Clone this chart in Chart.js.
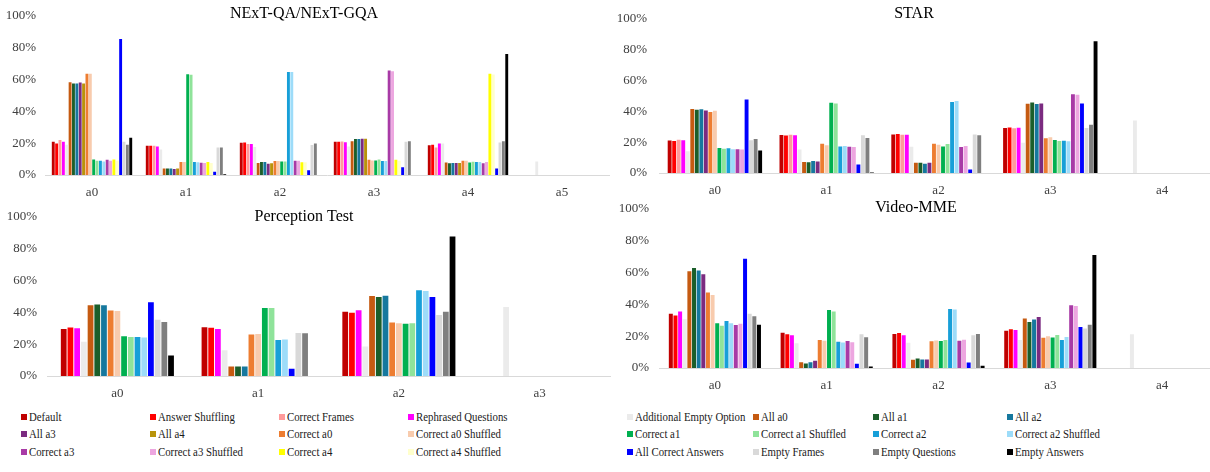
<!DOCTYPE html>
<html>
<head>
<meta charset="utf-8">
<script src="https://cdn.jsdelivr.net/npm/chart.js@4.4.1/dist/chart.umd.min.js"></script>
<style>
  html, body { margin: 0; padding: 0; background: #fff; overflow: hidden; width: 1210px; height: 472px; position: relative; }
  canvas { position: absolute; }
  .lg { position: absolute; white-space: nowrap; font-family: 'Liberation Serif', 'Times New Roman', serif; font-size: 13.5px; color: #1a1a1a; line-height: 15px; }
  .lg i { display: inline-block; width: 6px; height: 6px; margin-right: 2px; vertical-align: 1px; }
  .lg span { display: inline-block; transform: scaleX(0.8); transform-origin: left center; }
</style>
</head>
<body>
<canvas id="cNext" width="610" height="200" style="left:0;top:0"></canvas>
<canvas id="cStar" width="620" height="200" style="left:600px;top:0"></canvas>
<canvas id="cPerc" width="612" height="200" style="left:0;top:200px"></canvas>
<canvas id="cVmme" width="620" height="200" style="left:600px;top:192px"></canvas>
<div id="legend"></div>
<script>
// Series (same order as the legend) and their colours
const seriesNames = [
  'Default', 'Answer Shuffling', 'Correct Frames', 'Rephrased Questions', 'Additional Empty Option', 'All a0', 'All a1', 'All a2',
  'All a3', 'All a4', 'Correct a0', 'Correct a0 Shuffled', 'Correct a1', 'Correct a1 Shuffled', 'Correct a2', 'Correct a2 Shuffled',
  'Correct a3', 'Correct a3 Shuffled', 'Correct a4', 'Correct a4 Shuffled', 'All Correct Answers', 'Empty Frames', 'Empty Questions', 'Empty Answers'
];
const seriesColors = [
  '#C00000', '#FF0000', '#FF9B9B', '#FF00FF', '#EBEBEB', '#C55A11', '#1B5E2A', '#16789E',
  '#7B2B80', '#B8930A', '#ED7D31', '#F8CBAD', '#00B050', '#8FE39A', '#179FD8', '#9DDCF9',
  '#A83AA6', '#EDA6E0', '#FFFF00', '#FFFFCC', '#0000FF', '#D9D9D9', '#7F7F7F', '#000000'
];

// NExT-QA / NExT-GQA: all 24 series, one row of values per answer position
const nextCats = ['a0', 'a1', 'a2', 'a3', 'a4', 'a5'];
const nextSeries = seriesNames.slice();
const nextValues = [
  [20.8, 19.8, 22, 20.8, 19, 58.1, 57.3, 57.3, 58, 57.3, 63.5, 63.5, 9.7, 8.9, 8.9, 8.5, 9.5, 8.9, 9.7, 9, 85.3, 20.8, 19, 23.4],
  [18.3, 18.3, 18.3, 17.9, 16, 4, 4, 4, 3.7, 4, 8.1, 8.1, 63.1, 62.9, 8.1, 8, 7.7, 7.5, 8.1, 7.5, 2, 17.3, 17.3, 0.5],
  [20.2, 20.4, 19.4, 19.4, 17.5, 7.5, 8.1, 8.1, 7, 7.3, 8.7, 8.7, 8.5, 8.5, 64.5, 64.5, 9, 9, 8, 8, 3, 18.8, 19.8, null],
  [20.8, 20.8, 21, 20.5, 17.9, 21.2, 22.6, 22.6, 22.8, 22.8, 9.5, 9.1, 9.1, 9.7, 8.7, 8.7, 65.5, 65.1, 9.5, 9, 4.8, 20.8, 21.2, null],
  [18.7, 19, 17.3, 19.8, 19.8, 7.9, 7.3, 7.5, 7.5, 7.5, 8.9, 8.9, 7.9, 8.3, 8.1, 8.1, 7.3, 8.1, 63.5, 63, 4, 20.4, 21.2, 75.8],
  [null, null, null, null, 8.5, null, null, null, null, null, null, null, null, null, null, null, null, null, null, null, null, null, null, null]
];

// STAR: four answers, so no a4 series
const starCats = ['a0', 'a1', 'a2', 'a3', 'a4'];
const starSeries = seriesNames.filter(n => !['All a4', 'Correct a4', 'Correct a4 Shuffled'].includes(n));
const starValues = [
  [21, 20.7, 21.5, 21.2, 14, 41.5, 41, 41.3, 40.5, 39.5, 40.3, 16.2, 15.7, 16, 15.3, 15.3, 15.2, 47.5, 21.2, 22, 14.5],
  [24.6, 24.2, 24.8, 24.4, 15.2, 7.1, 6.9, 7.8, 7.5, 18.9, 17.9, 45.4, 45, 17.2, 17.5, 17, 16.8, 5.5, 24.5, 22.7, 0.3],
  [25, 25.2, 24.7, 24.8, 17, 6.6, 6.6, 6, 6.6, 18.9, 18.3, 17.2, 18.7, 46, 46.6, 16.9, 17.4, 2.2, 25, 24.4, null],
  [29.1, 29.5, 28.9, 29.3, 19.5, 44.8, 45.6, 44.6, 45, 22.5, 23.1, 21.3, 20.7, 20.9, 20.5, 51, 50.6, 45, 29.1, 31.3, 85.3],
  [null, null, null, null, 33.9, null, null, null, null, null, null, null, null, null, null, null, null, null, null, null, null]
];

// Perception Test: three answers, no Correct Frames
const percCats = ['a0', 'a1', 'a2', 'a3'];
const percSeries = seriesNames.filter(n => !['Correct Frames', 'All a3', 'All a4', 'Correct a3', 'Correct a3 Shuffled', 'Correct a4', 'Correct a4 Shuffled'].includes(n));
const percValues = [
  [29.4, 30.4, 30, 21.5, 44.3, 44.9, 44.3, 41, 40.8, 25, 24.4, 24.4, 24.2, 46.3, 35.2, 33.8, 12.9],
  [30.6, 30.2, 29.4, 16.1, 6, 6, 6, 26, 26.4, 42.7, 42.7, 22.6, 22.9, 4.5, 27, 26.8, null],
  [40.3, 39.7, 41.3, 18.5, 50.1, 49.5, 50.3, 33.6, 33, 32.8, 33, 53.7, 53.3, 49.5, 38.2, 40.3, 87.5],
  [null, null, null, 43.3, null, null, null, null, null, null, null, null, null, null, null, null, null]
];

// Video-MME: four answers, no Correct Frames
const vmmeCats = ['a0', 'a1', 'a2', 'a3', 'a4'];
const vmmeSeries = seriesNames.filter(n => !['Correct Frames', 'All a4', 'Correct a4', 'Correct a4 Shuffled'].includes(n));
const vmmeValues = [
  [34, 32.9, 35.4, 30.5, 60.7, 62.7, 61.1, 58.7, 47.4, 45.8, 28, 26.5, 29.5, 28.1, 26.9, 27.7, 68.5, 34, 32.5, 27.1],
  [22.1, 21.1, 20.5, 15.5, 3.6, 2.8, 3.6, 4.5, 17.5, 17.1, 36.4, 35.4, 16.5, 16, 16.9, 16.1, 2.6, 21.1, 19.3, 1],
  [21.3, 21.9, 20.5, 15.9, 5.1, 6, 5.4, 5.4, 16.7, 17.3, 16.9, 17.5, 37, 36.6, 17.1, 17.7, 3.4, 20.5, 21.3, 1.4],
  [23.3, 24.3, 23.9, 17.5, 31, 28.9, 30.4, 31.9, 18.9, 19.9, 19.1, 20.7, 17.5, 19.5, 39.4, 38.8, 25.7, 24.7, 27.1, 70.9],
  [null, null, null, 21.1, null, null, null, null, null, null, null, null, null, null, null, null, null, null, null, null]
];

const yTicks = [0, 20, 40, 60, 80, 100];
const FONT = "'Liberation Serif', 'Times New Roman', serif";

// Title drawn inside the plot, like the original
const panelTitle = {
  id: 'panelTitle',
  afterDraw(chart, args, o) {
    const ctx = chart.ctx;
    ctx.save();
    ctx.font = '16px ' + FONT;
    ctx.fillStyle = '#000';
    ctx.textAlign = 'center';
    ctx.textBaseline = 'middle';
    ctx.fillText(o.text, o.x, o.y);
    ctx.restore();
  }
};

function makeChart(id, cats, names, rows, o) {
  const datasets = names.map((name, s) => ({
    label: name,
    data: rows.map(r => r[s]),
    backgroundColor: seriesColors[seriesNames.indexOf(name)],
    borderWidth: 0,
    categoryPercentage: o.cat,
    barPercentage: 0.86
  }));
  return new Chart(document.getElementById(id), {
    type: 'bar',
    data: { labels: cats, datasets },
    plugins: [panelTitle],
    options: {
      responsive: false,
      animation: false,
      layout: { padding: { top: o.top, right: o.right, left: 0, bottom: 0 } },
      plugins: {
        legend: { display: false },
        tooltip: { enabled: false },
        panelTitle: { text: o.title, x: o.tx, y: o.ty }
      },
      scales: {
        x: {
          grid: { display: false, drawTicks: false },
          border: { color: '#D9D9D9', width: 1 },
          ticks: { padding: 10, color: '#404040', font: { family: FONT, size: 13 } },
          afterFit: s => { s.height = o.xh; }
        },
        y: {
          min: 0, max: 100,
          grid: { display: false, drawTicks: false },
          border: { display: false },
          afterBuildTicks: s => { s.ticks = yTicks.map(v => ({ value: v })); },
          ticks: { padding: o.yp, color: '#404040', font: { family: FONT, size: 13, lineHeight: 1 }, callback: v => v + '%' },
          afterFit: s => { s.width = o.yw; }
        }
      }
    }
  });
}

makeChart('cNext', nextCats, nextSeries, nextValues, { title: 'NExT-QA/NExT-GQA', tx: 304, ty: 14, top: 7, right: 1, xh: 25, yw: 45, yp: 9, cat: 0.86 });
makeChart('cStar', starCats, starSeries, starValues, { title: 'STAR', tx: 314, ty: 14, top: 7, right: 2, xh: 27, yw: 59, yp: 12, cat: 0.85 });
makeChart('cPerc', percCats, percSeries, percValues, { title: 'Perception Test', tx: 304, ty: 17, top: 10, right: 2, xh: 24, yw: 47, yp: 10, cat: 0.81 });
makeChart('cVmme', vmmeCats, vmmeSeries, vmmeValues, { title: 'Video-MME', tx: 316, ty: 16, top: 10, right: 2, xh: 24, yw: 59, yp: 10, cat: 0.83 });

// Shared legend: 8 columns x 3 rows
const legendX = [21, 150, 279, 408, 627, 753, 873, 1007];
const legendY = [409, 426, 444];
const legend = document.getElementById('legend');
seriesNames.forEach((name, i) => {
  const el = document.createElement('div');
  el.className = 'lg';
  el.style.left = legendX[i % 8] + 'px';
  el.style.top = legendY[Math.floor(i / 8)] + 'px';
  el.innerHTML = '<i style="background:' + seriesColors[i] + '"></i><span></span>';
  el.querySelector('span').textContent = name;
  legend.appendChild(el);
});
</script>
</body>
</html>
